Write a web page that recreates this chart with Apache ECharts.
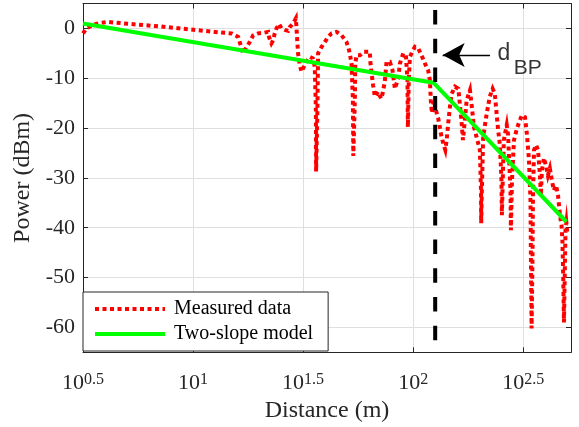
<!DOCTYPE html>
<html>
<head>
<meta charset="utf-8">
<script src="https://cdn.jsdelivr.net/npm/echarts@6/dist/echarts.min.js"></script>
<style>
  html, body { margin: 0; padding: 0; background: #fff; }
  #chart { width: 579px; height: 427px; }
</style>
</head>
<body>
<div id="chart"></div>
<script>
// Measured trace: log10 of distance (m) and received power (dBm)
const measuredLogDist = [
  0.500, 0.515, 0.553, 0.576, 0.614, 0.712, 0.849, 0.985, 1.099, 1.175,
  1.205, 1.227, 1.240, 1.258, 1.273, 1.295, 1.318, 1.341, 1.345, 1.356,
  1.364, 1.371, 1.379, 1.391, 1.402, 1.417, 1.432, 1.440, 1.455, 1.467,
  1.474, 1.477, 1.485, 1.493, 1.500, 1.515, 1.530, 1.544, 1.553, 1.558,
  1.559, 1.565, 1.568, 1.584, 1.599, 1.614, 1.629, 1.652, 1.675, 1.697,
  1.709, 1.720, 1.726, 1.728, 1.735, 1.737, 1.743, 1.758, 1.776, 1.803,
  1.806, 1.811, 1.818, 1.826, 1.834, 1.841, 1.849, 1.856, 1.864, 1.871,
  1.879, 1.894, 1.906, 1.917, 1.925, 1.932, 1.940, 1.955, 1.967, 1.974,
  1.976, 1.980, 1.985, 1.999, 2.008, 2.023, 2.038, 2.053, 2.068, 2.076,
  2.080, 2.085, 2.094, 2.103, 2.114, 2.121, 2.129, 2.140, 2.146, 2.152,
  2.159, 2.167, 2.175, 2.190, 2.205, 2.212, 2.221, 2.226, 2.235, 2.243,
  2.258, 2.265, 2.276, 2.288, 2.303, 2.308, 2.309, 2.312, 2.318, 2.334,
  2.348, 2.361, 2.371, 2.379, 2.386, 2.394, 2.401, 2.403, 2.408, 2.412,
  2.425, 2.431, 2.435, 2.442, 2.444, 2.449, 2.458, 2.472, 2.485, 2.494,
  2.508, 2.517, 2.526, 2.533, 2.535, 2.538, 2.542, 2.544, 2.549, 2.558,
  2.567, 2.576, 2.580, 2.585, 2.594, 2.603, 2.612, 2.621, 2.630, 2.639,
  2.649, 2.658, 2.667, 2.674, 2.678, 2.682, 2.685, 2.689, 2.692, 2.696,
  2.701
];
const measuredPower = [
  -1.0, 0.0, 0.8, 1.1, 1.3, 0.9, 0.4, -0.2, -0.7, -1.0,
  -1.7, -5.0, -4.0, -2.7, -1.4, -1.0, -0.9, -0.7, -1.7, -3.0,
  -2.4, -1.0, 0.0, 0.9, 0.0, -0.3, -0.5, 0.3, 1.0, 2.0,
  1.7, -5.0, -7.4, -8.7, -8.0, -6.7, -5.7, -6.0, -7.7, -16.4,
  -28.7, -16.4, -5.0, -3.7, -2.7, -1.7, -1.0, -0.7, -1.4, -2.7,
  -4.4, -7.0, -14.4, -25.6, -14.4, -7.0, -5.4, -5.4, -4.7, -4.7,
  -7.0, -9.0, -11.4, -13.7, -14.1, -12.7, -13.6, -14.1, -12.4, -10.7,
  -6.7, -6.7, -8.4, -12.1, -12.4, -10.0, -7.0, -5.0, -5.4, -10.4,
  -19.8, -10.4, -5.7, -4.4, -3.7, -4.0, -5.4, -7.0, -8.4, -10.4,
  -14.4, -17.0, -14.4, -16.4, -18.1, -19.8, -21.8, -23.6, -24.4, -22.4,
  -19.1, -15.7, -13.1, -11.7, -12.1, -15.1, -19.4, -22.4, -18.4, -14.4,
  -12.4, -15.1, -19.8, -21.8, -24.4, -32.5, -39.1, -32.5, -21.8, -17.1,
  -13.7, -12.1, -13.1, -17.1, -20.4, -23.4, -30.4, -37.5, -28.5, -22.4,
  -19.4, -21.4, -25.4, -32.5, -40.5, -30.4, -22.4, -20.0, -18.4, -17.4,
  -17.8, -21.4, -26.4, -34.5, -46.5, -60.2, -46.5, -34.5, -24.4, -23.4,
  -24.4, -29.5, -33.5, -28.5, -26.0, -27.5, -29.5, -28.1, -30.5, -32.5,
  -31.5, -33.5, -37.5, -39.5, -42.5, -50.5, -59.0, -48.5, -40.5, -39.0,
  -41.5
];

// Two-slope path-loss model: start, breakpoint, end
const modelLogDist = [0.5, 2.092, 2.696];
const modelPower = [1.0, -10.9, -38.8];

// Breakpoint distance marker (log10 m) and its vertical extent (dBm)
const breakpointLogDist = 2.1;
const breakpointSpan = [3.7, -62.8];

// Axis ranges and ticks
const xRange = [0.5, 2.717];
const yRange = [-65, 5];
const xTickExps = [0.5, 1, 1.5, 2, 2.5];
const yTicks = [-60, -50, -40, -30, -20, -10, 0];

// Annotation: arrow pointing at the breakpoint, plus its label
const arrowFrom = [2.349, -5.36];
const arrowTo = [2.134, -5.36];
const labelD = [2.383, -5.0];
const labelSub = [2.457, -7.9];

const zip = (a, b) => a.map((v, i) => [v, b[i]]);

const axisColor = '#262626';
const gridColor = '#dfdfdf';
const serif = 'Liberation Serif';
const sans = 'Liberation Sans';

const chart = echarts.init(document.getElementById('chart'), null, { renderer: 'canvas' });

const frameAxis = (extra) => Object.assign({
  type: 'value',
  axisLine: { show: true, onZero: false, lineStyle: { color: axisColor, width: 1 } },
  axisTick: { show: true, inside: true, length: 5, lineStyle: { color: axisColor, width: 1 } },
  axisLabel: { show: false },
  splitLine: { show: false }
}, extra);

chart.setOption({
  animation: false,
  backgroundColor: '#fff',
  grid: { left: 83, right: 8, top: 3.5, bottom: 74.7, containLabel: false, outerBoundsMode: 'none' },
  legend: {
    data: ['Measured data', 'Two-slope model'],
    orient: 'vertical',
    left: 83,
    top: 292,
    itemWidth: 70,
    itemHeight: 20,
    itemGap: 5,
    padding: [7, 15, 7, 10],
    backgroundColor: '#fff',
    borderColor: axisColor,
    borderWidth: 1,
    borderRadius: 0,
    selectedMode: false,
    itemStyle: { color: 'rgba(0,0,0,0)', borderWidth: 0, opacity: 0 },
    lineStyle: { width: 4 },
    textStyle: { fontFamily: serif, fontSize: 20, color: '#000', padding: [0, 0, 0, 4] }
  },
  xAxis: [
    frameAxis({
      min: xRange[0], max: xRange[1], position: 'bottom',
      axisTick: { show: true, inside: true, length: 5, customValues: xTickExps, lineStyle: { color: axisColor, width: 1 } },
      axisLabel: {
        show: true,
        customValues: xTickExps,
        margin: 19,
        formatter: (v) => '{b|10}{s|' + v + '}',
        rich: {
          b: { fontFamily: serif, fontSize: 22, lineHeight: 24, color: axisColor },
          s: { fontFamily: serif, fontSize: 16, lineHeight: 15, verticalAlign: 'top', color: axisColor }
        }
      },
      splitLine: { show: true, lineStyle: { color: gridColor, width: 1 } },
      name: 'Distance (m)',
      nameLocation: 'middle',
      nameGap: 44,
      nameTextStyle: { fontFamily: serif, fontSize: 24, color: axisColor }
    }),
    frameAxis({
      min: xRange[0], max: xRange[1], position: 'top',
      axisTick: { show: true, inside: true, length: 5, customValues: xTickExps, lineStyle: { color: axisColor, width: 1 } }
    })
  ],
  yAxis: [
    frameAxis({
      min: yRange[0], max: yRange[1], position: 'left',
      axisTick: { show: true, inside: true, length: 5, customValues: yTicks, lineStyle: { color: axisColor, width: 1 } },
      axisLabel: {
        show: true,
        customValues: yTicks,
        margin: 8,
        fontFamily: serif, fontSize: 22, color: axisColor
      },
      splitLine: { show: true, lineStyle: { color: gridColor, width: 1 } },
      name: 'Power (dBm)',
      nameLocation: 'middle',
      nameRotate: 90,
      nameGap: 46,
      nameTextStyle: { fontFamily: serif, fontSize: 24, color: axisColor }
    }),
    frameAxis({
      min: yRange[0], max: yRange[1], position: 'right',
      axisTick: { show: true, inside: true, length: 5, customValues: yTicks, lineStyle: { color: axisColor, width: 1 } }
    })
  ],
  series: [
    {
      name: 'Measured data',
      type: 'line',
      data: zip(measuredLogDist, measuredPower),
      symbol: 'none',
      z: 2,
      itemStyle: { color: '#ff0000' },
      lineStyle: { color: '#ff0000', width: 4, type: [4, 3.5], cap: 'butt', join: 'miter' }
    },
    {
      name: 'Two-slope model',
      type: 'line',
      data: zip(modelLogDist, modelPower),
      symbol: 'none',
      z: 3,
      itemStyle: { color: '#00ff00' },
      lineStyle: { color: '#00ff00', width: 4, type: 'solid' }
    },
    {
      name: 'Breakpoint',
      type: 'line',
      data: breakpointSpan.map((p) => [breakpointLogDist, p]),
      symbol: 'none',
      z: 4,
      lineStyle: { color: '#000', width: 4, type: [14.5, 14.2], cap: 'butt' }
    },
    {
      name: 'Breakpoint label',
      type: 'scatter',
      symbolSize: 0,
      z: 5,
      silent: true,
      data: [
        { value: labelD, label: { formatter: 'd', fontSize: 23 } },
        { value: labelSub, label: { formatter: 'BP', fontSize: 21 } }
      ],
      label: {
        show: true, position: 'inside', align: 'left', verticalAlign: 'middle',
        fontFamily: sans, color: '#000'
      },
      markLine: {
        silent: true,
        animation: false,
        symbol: ['none', 'arrow'],
        symbolSize: [18, 22],
        label: { show: false },
        lineStyle: { color: '#000', width: 1.3, type: 'solid' },
        emphasis: { disabled: true },
        data: [[{ coord: arrowFrom }, { coord: arrowTo }]]
      }
    }
  ]
});
</script>
</body>
</html>
